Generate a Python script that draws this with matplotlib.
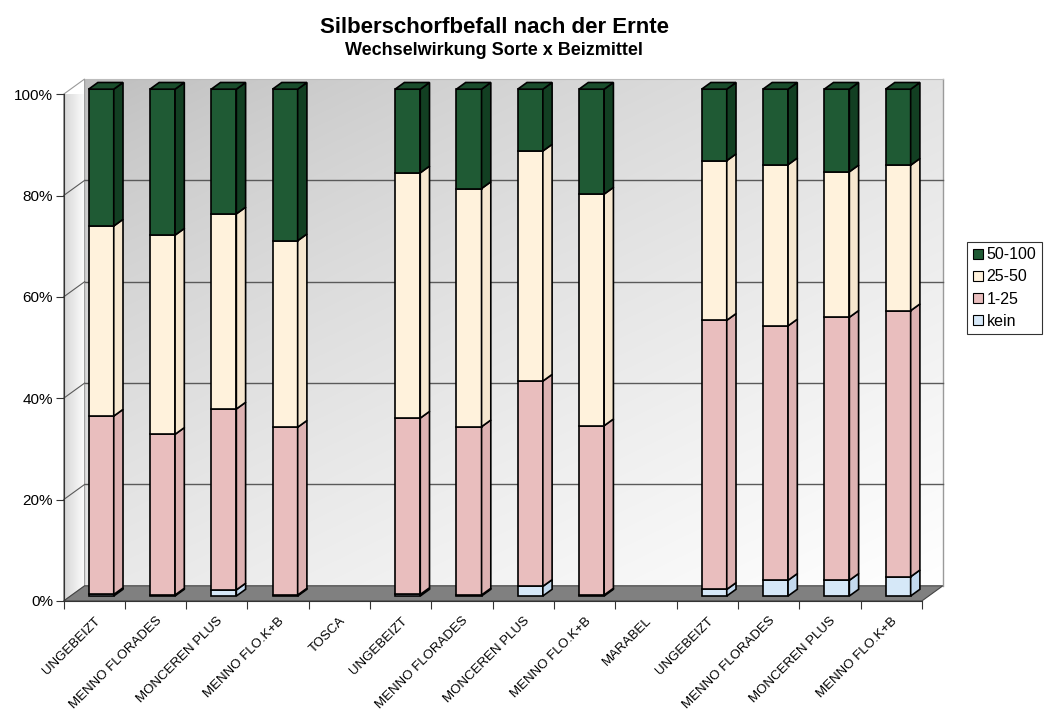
import numpy as np
import matplotlib
matplotlib.use("Agg")
import matplotlib.pyplot as plt
from matplotlib.patches import Polygon, Patch

plt.rcParams['font.family'] = ['Liberation Sans', 'DejaVu Sans']

categories = ["UNGEBEIZT", "MENNO FLORADES", "MONCEREN PLUS", "MENNO FLO.K+B", "TOSCA",
              "UNGEBEIZT", "MENNO FLORADES", "MONCEREN PLUS", "MENNO FLO.K+B", "MARABEL",
              "UNGEBEIZT", "MENNO FLORADES", "MONCEREN PLUS", "MENNO FLO.K+B"]
# percent per class (TOSCA / MARABEL are group labels without data)
kein   = [0.3, 0.2, 1.2, 0.2, 0, 0.3, 0.2, 1.9, 0.2, 0, 1.3, 3.1, 3.1, 3.8]
b1_25  = [35.2, 31.7, 35.7, 33.1, 0, 34.8, 33.2, 40.5, 33.4, 0, 53.1, 50.2, 51.9, 52.5]
b25_50 = [37.5, 39.3, 38.5, 36.8, 0, 48.4, 47.0, 45.4, 45.7, 0, 31.5, 31.8, 28.7, 28.7]
b50_100 = [27.0, 28.8, 24.6, 29.9, 0, 16.5, 19.6, 12.2, 20.7, 0, 14.1, 14.9, 16.3, 15.0]

series = [("kein", kein), ("1-25", b1_25), ("25-50", b25_50), ("50-100", b50_100)]
front_col = {"kein": "#d6e8f8", "1-25": "#e9bebe", "25-50": "#fff2dc", "50-100": "#1f5a34"}
side_col = {"kein": "#c3d9ee", "1-25": "#ddb2b2", "25-50": "#f6e7cf", "50-100": "#123f22"}
top_col = {"kein": "#e4f0fb", "1-25": "#f0cccc", "25-50": "#fff7ea", "50-100": "#1a4d2c"}

n = len(categories)
Dx, Dy = 0.343, 3.0      # full depth offset in data units
d0, d1 = 0.33, 0.77      # bar depth range
w = 0.41

fig = plt.figure(figsize=(10.44, 7.11), dpi=100)
ax = fig.add_axes([63.6 / 1044, 110 / 711, 858.2 / 1044, 506.8 / 711])

# back wall gradient (dark top-left -> white bottom-right)
u, v = np.meshgrid(np.linspace(0, 1, 200), np.linspace(0, 1, 200))
t = 0.45 * u + 0.55 * v
g = 0.74 + 0.26 * t ** 0.7
ax.imshow(np.dstack([g, g, g]), extent=(Dx, n + Dx, Dy, 100 + Dy), aspect='auto',
          zorder=0, clip_on=False, interpolation='bilinear')

# left side wall
side = Polygon([(0, 0), (Dx, Dy), (Dx, 100 + Dy), (0, 100)], closed=True,
               facecolor='none', edgecolor='#9a9a9a', lw=0.8, clip_on=False, zorder=1)
ax.add_patch(side)
gs = np.linspace(0.84, 1.0, 100)[None, :] * np.ones((100, 1))
im = ax.imshow(np.dstack([gs, gs, gs]), extent=(0, Dx, 0, 100 + Dy), aspect='auto',
               zorder=0.5, interpolation='bilinear')
im.set_clip_path(side)
ax.set_xlim(0, n)
ax.set_ylim(0, 100)

# wall edges and gridlines
ax.plot([n + Dx, n + Dx], [Dy, 100 + Dy], color='#9a9a9a', lw=1, clip_on=False, zorder=1)
for gv in [20, 40, 60, 80]:
    ax.plot([Dx, n + Dx], [gv + Dy, gv + Dy], color='#5a5a5a', lw=1, clip_on=False, zorder=1)
    ax.plot([0, Dx], [gv, gv + Dy], color='#5a5a5a', lw=0.8, clip_on=False, zorder=1)
ax.plot([Dx, n + Dx], [100 + Dy, 100 + Dy], color='#bdbdbd', lw=0.8, clip_on=False, zorder=1)

# floor
floor = Polygon([(0, 0), (n, 0), (n + Dx, Dy), (Dx, Dy)], closed=True,
                facecolor='#808080', edgecolor='#444444', lw=0.8, clip_on=False, zorder=1.5)
ax.add_patch(floor)

# bars
centers = np.arange(n) + 0.5
dd = d1 - d0
for i in range(n):
    bottom = 0.0
    top_name = None
    x0 = centers[i] - w / 2 + d0 * Dx
    for name, vals in series:
        h = vals[i]
        if h <= 0:
            continue
        y0 = bottom + d0 * Dy
        ax.bar(x0, h, width=w, bottom=y0, align='edge', color=front_col[name],
               edgecolor='black', lw=1.2, zorder=3 + i * 0.01, clip_on=False)
        xr = x0 + w
        ax.add_patch(Polygon([(xr, y0), (xr + dd * Dx, y0 + dd * Dy),
                              (xr + dd * Dx, y0 + h + dd * Dy), (xr, y0 + h)],
                             closed=True, facecolor=side_col[name], edgecolor='black',
                             lw=1.2, zorder=3 + i * 0.01, clip_on=False))
        bottom += h
        top_name = name
    if top_name is not None:
        y0 = bottom + d0 * Dy
        ax.add_patch(Polygon([(x0, y0), (x0 + w, y0), (x0 + w + dd * Dx, y0 + dd * Dy),
                              (x0 + dd * Dx, y0 + dd * Dy)],
                             closed=True, facecolor=top_col[top_name], edgecolor='black',
                             lw=1.2, zorder=3 + i * 0.01, clip_on=False))

# axes styling
for s in ['top', 'right']:
    ax.spines[s].set_visible(False)
ax.spines['left'].set_color('#333333')
ax.spines['bottom'].set_color('#333333')
ax.spines['left'].set_zorder(2)
ax.spines['bottom'].set_zorder(2)
ax.set_yticks([0, 20, 40, 60, 80, 100])
ax.set_yticklabels(["0%", "20%", "40%", "60%", "80%", "100%"], fontsize=11)
ax.tick_params(axis='y', length=6, width=0.8, color='#333333', pad=1.5)
ax.set_xticks(np.arange(n + 1))
ax.set_xticklabels([])
ax.tick_params(axis='x', which='major', length=6, width=0.8, color='#333333')
ax.set_xticks(centers, minor=True)
ax.set_xticklabels(categories, minor=True, fontsize=9.5)
ax.tick_params(axis='x', which='minor', length=0, pad=10)
for lab in ax.get_xticklabels(minor=True):
    lab.set_rotation(45)
    lab.set_ha('right')
    lab.set_va('top')
    lab.set_rotation_mode('anchor')

fig.text(494 / 1044, 1 - 33 / 711, "Silberschorfbefall nach der Ernte", ha='center',
         va='baseline', fontsize=16, fontweight='bold')
fig.text(494 / 1044, 1 - 55 / 711, "Wechselwirkung Sorte x Beizmittel", ha='center',
         va='baseline', fontsize=13, fontweight='bold')

handles = [Patch(facecolor=front_col[nm], edgecolor='black', lw=0.8) for nm, _ in series[::-1]]
labels = [nm for nm, _ in series[::-1]]
leg = fig.legend(handles, labels, loc='center right', bbox_to_anchor=(1042 / 1044, 1 - 288 / 711),
                 fontsize=11.5, frameon=True, fancybox=False, edgecolor='black',
                 handlelength=0.6, handleheight=0.6, handletextpad=0.25, borderpad=0.35,
                 labelspacing=0.45, borderaxespad=0)
leg.get_frame().set_linewidth(0.8)

fig.savefig("out.png", dpi=100, facecolor='white')
